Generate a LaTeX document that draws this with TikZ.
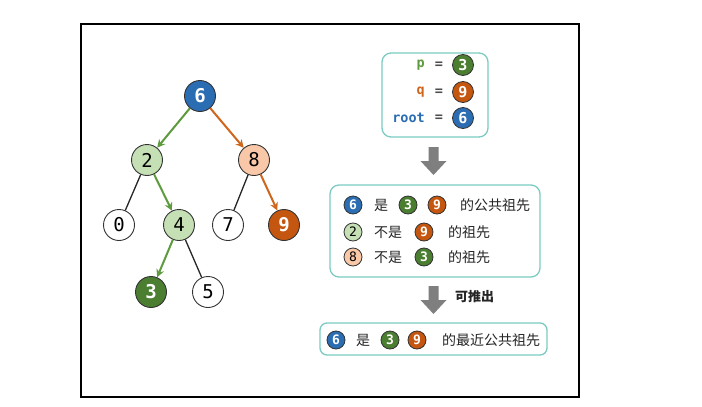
\documentclass[tikz,border=0pt]{standalone}
\usepackage{fontspec}
\setmainfont{DejaVu Sans}
\newfontfamily\monof{DejaVu Sans Mono}
\newfontfamily\cjk{Noto Sans CJK SC}
\usetikzlibrary{arrows.meta}
\definecolor{cblue}{HTML}{2B6DB3}
\definecolor{cdgreen}{HTML}{4B7E31}
\definecolor{corange}{HTML}{C5560F}
\definecolor{clgreen}{HTML}{C6E0B5}
\definecolor{clorange}{HTML}{F8C8A8}
\definecolor{agreen}{HTML}{5E9A3E}
\definecolor{aorange}{HTML}{D0661C}
\definecolor{teal}{HTML}{7CCBC3}
\definecolor{arrgray}{HTML}{7F7F7F}
\tikzset{
  tn/.style={circle, draw=black!80, line width=0.9pt, minimum size=31pt, inner sep=0pt, font=\monof\fontsize{19}{19}\selectfont},
  tnb/.style={tn, font=\monof\bfseries\fontsize{19}{19}\selectfont},
  sn/.style={circle, draw=black!80, line width=0.8pt, minimum size=18pt, inner sep=0pt, font=\monof\bfseries\fontsize{13}{13}\selectfont},
  snl/.style={sn, font=\monof\fontsize{13}{13}\selectfont},
  bn/.style={circle, draw=black!80, line width=0.8pt, minimum size=21pt, inner sep=0pt, font=\monof\bfseries\fontsize{15}{15}\selectfont},
  fblue/.style={fill=cblue, text=white},
  fdgreen/.style={fill=cdgreen, text=white},
  forange/.style={fill=corange, text=white},
  flgreen/.style={fill=clgreen},
  florange/.style={fill=clorange},
  fwhite/.style={fill=white},
  garrow/.style={draw=agreen, line width=2pt, -{Stealth[length=8pt,width=8pt]}},
  oarrow/.style={draw=aorange, line width=2pt, -{Stealth[length=8pt,width=8pt]}},
  plain/.style={draw=black!85, line width=1.3pt},
  tbox/.style={draw=teal, line width=1.3pt, rounded corners=9pt},
  ctext/.style={font=\cjk\fontsize{14}{14}\selectfont, inner sep=0pt, anchor=west, text=black!85},
  mtext/.style={font=\monof\bfseries\fontsize{13.5}{13.5}\selectfont, inner sep=0pt},
  bigarrow/.style={fill=arrgray, draw=none}
}
\begin{document}
\begin{tikzpicture}[x=1pt,y=-1pt]
\useasboundingbox (0,0) rectangle (702,407);
\fill[white] (0,0) rectangle (702,407);
\draw[line width=1.3pt, draw=black] (81,24) rectangle (579,397);

% tree
\node[tnb,fblue] (n6) at (200,96) {6};
\node[tn,flgreen] (n2) at (147,160) {2};
\node[tn,florange] (n8) at (254,160) {8};
\node[tn,fwhite] (n0) at (119,225) {0};
\node[tn,flgreen] (n4) at (179,225) {4};
\node[tn,fwhite] (n7) at (228,225) {7};
\node[tnb,forange] (n9) at (284,225) {9};
\node[tnb,fdgreen] (n3) at (151,292) {3};
\node[tn,fwhite] (n5) at (208,292) {5};

\draw[garrow] (n6) -- (n2);
\draw[oarrow] (n6) -- (n8);
\draw[plain] (n2) -- (n0);
\draw[garrow] (n2) -- (n4);
\draw[plain] (n8) -- (n7);
\draw[oarrow] (n8) -- (n9);
\draw[garrow] (n4) -- (n3);
\draw[plain] (n4) -- (n5);

% top box
\node[tbox, minimum width=106pt, minimum height=84pt] (box1) at (435,95) {};
\node[mtext, text=agreen, anchor=east] (tp) at (425,65) {p};
\node[mtext, text=aorange, anchor=east] (tq) at (425,92) {q};
\node[mtext, text=cblue, anchor=east] (tr) at (425,118) {root};
\node[mtext, text=black!70] (e1) at (439,65) {=};
\node[mtext, text=black!70] (e2) at (439,92) {=};
\node[mtext, text=black!70] (e3) at (439,118) {=};
\node[bn,fdgreen] (c1) at (463,65) {3};
\node[bn,forange] (c2) at (463,92) {9};
\node[bn,fblue] (c3) at (463,118) {6};

% arrow 1
\fill[bigarrow] (428.5,147) -- (438.5,147) -- (438.5,161) -- (446.5,161) -- (433.5,175) -- (420.5,161) -- (428.5,161) -- cycle;

% middle box
\node[tbox, minimum width=210pt, minimum height=92pt] (box2) at (435,231) {};
\node[sn,fblue] (m16) at (353,205) {6};
\node[ctext] (m1a) at (374,205) {是};
\node[sn,fdgreen] (m13) at (408,205) {3};
\node[sn,forange] (m19) at (437,205) {9};
\node[ctext] (m1b) at (460,205) {的公共祖先};
\node[snl,flgreen] (m22) at (353,232) {2};
\node[ctext] (m2a) at (374,232) {不是};
\node[sn,forange] (m29) at (424,232) {9};
\node[ctext] (m2b) at (448,232) {的祖先};
\node[snl,florange] (m38) at (353,257) {8};
\node[ctext] (m3a) at (374,257) {不是};
\node[sn,fdgreen] (m33) at (424,257) {3};
\node[ctext] (m3b) at (448,257) {的祖先};

% arrow 2
\fill[bigarrow] (428.5,286) -- (438.5,286) -- (438.5,300) -- (446.5,300) -- (433.5,314) -- (420.5,300) -- (428.5,300) -- cycle;
\node[ctext, font=\cjk\bfseries\fontsize{13}{13}\selectfont] (tui) at (455,297) {可推出};

% bottom box
\node[tbox, rounded corners=7pt, minimum width=227pt, minimum height=32pt] (box3) at (433.5,339) {};
\node[sn,fblue] (b6) at (336,340) {6};
\node[ctext] (ba) at (356,340) {是};
\node[sn,fdgreen] (b3) at (390,340) {3};
\node[sn,forange] (b9) at (417,340) {9};
\node[ctext] (bb) at (442,340) {的最近公共祖先};
\end{tikzpicture}
\end{document}
